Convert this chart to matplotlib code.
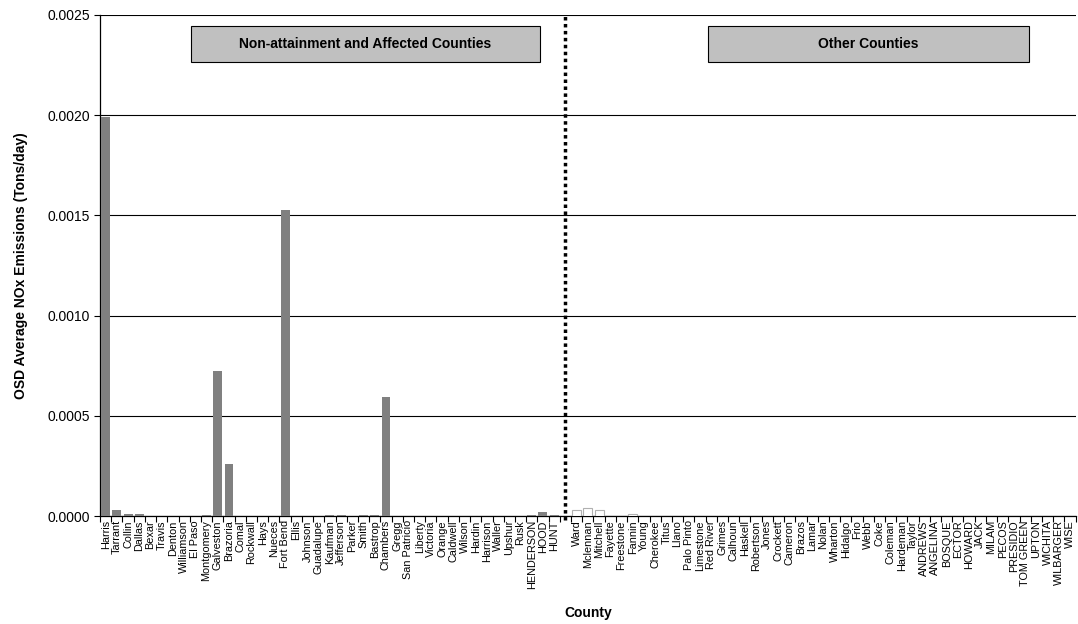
import matplotlib.pyplot as plt
from matplotlib.patches import Rectangle
from matplotlib.ticker import FormatStrFormatter

plt.rcParams['font.family'] = ['Liberation Sans', 'DejaVu Sans']

# non-attainment and affected counties
left_counties = ["Harris", "Tarrant", "Collin", "Dallas", "Bexar", "Travis", "Denton",
                 "Williamson", "El Paso", "Montgomery", "Galveston", "Brazoria", "Comal",
                 "Rockwall", "Hays", "Nueces", "Fort Bend", "Ellis", "Johnson", "Guadalupe",
                 "Kaufman", "Jefferson", "Parker", "Smith", "Bastrop", "Chambers", "Gregg",
                 "San Patricio", "Liberty", "Victoria", "Orange", "Caldwell", "Wilson",
                 "Hardin", "Harrison", "Waller", "Upshur", "Rusk", "HENDERSON", "HOOD", "HUNT"]
left_values = [0.00199, 0.000028, 0.000012, 0.000010, 0.000002, 0.000001, 0.000002,
               0.000001, 0.0, 0.000003, 0.000724, 0.000258, 0.000001,
               0.0, 0.000001, 0.000002, 0.001525, 0.000001, 0.000002, 0.000001,
               0.000006, 0.000004, 0.000001, 0.000003, 0.000005, 0.000594, 0.000001,
               0.000001, 0.000001, 0.000001, 0.000002, 0.000001, 0.0,
               0.000001, 0.000002, 0.000001, 0.0, 0.000002, 0.000003, 0.000020, 0.000006]

# other counties
right_counties = ["Ward", "Mclennan", "Mitchell", "Fayette", "Freestone", "Fannin", "Young",
                  "Cherokee", "Titus", "Llano", "Palo Pinto", "Limestone", "Red River",
                  "Grimes", "Calhoun", "Haskell", "Robertson", "Jones", "Crockett", "Cameron",
                  "Brazos", "Lamar", "Nolan", "Wharton", "Hidalgo", "Frio", "Webb", "Coke",
                  "Coleman", "Hardeman", "Taylor", "ANDREWS", "ANGELINA", "BOSQUE", "ECTOR",
                  "HOWARD", "JACK", "MILAM", "PECOS", "PRESIDIO", "TOM GREEN", "UPTON",
                  "WICHITA", "WILBARGER", "WISE"]
right_values = [0.000030, 0.000040, 0.000028, 0.000002, 0.000002, 0.000010, 0.000001,
                0.000002, 0.000001, 0.000001, 0.000002, 0.000001, 0.000001,
                0.000001, 0.000001, 0.000001, 0.000001, 0.000001, 0.000001, 0.000001,
                0.000001, 0.000001, 0.000001, 0.000001, 0.000001, 0.000001, 0.000001, 0.000001,
                0.000001, 0.000001, 0.000001, 0.000001, 0.000001, 0.000001, 0.000001,
                0.000001, 0.000001, 0.000001, 0.000001, 0.000001, 0.000001, 0.000001,
                0.000001, 0.000001, 0.000001]

labels = left_counties + [""] + right_counties
n_left = len(left_counties)
x_left = list(range(n_left))
gap_pos = n_left
x_right = [n_left + 1 + i for i in range(len(right_counties))]

fig = plt.figure(figsize=(10.78, 6.24), dpi=100)
ax = fig.add_axes([0.0928, 0.173, 0.905, 0.803])

ax.bar(x_left, left_values, width=0.8, color="#808080", edgecolor="none", zorder=3)
ax.bar(x_right, right_values, width=0.8, color="white", edgecolor="#b0b0b0",
       linewidth=0.8, zorder=3)

ax.set_xlim(-0.5, len(labels) - 0.5)
ax.set_ylim(0, 0.0025)
ax.set_yticks([0, 0.0005, 0.0010, 0.0015, 0.0020, 0.0025])
ax.yaxis.set_major_formatter(FormatStrFormatter("%.4f"))
ax.grid(axis="y", color="black", linewidth=0.8, zorder=0)

# category labels at centres, tick marks at boundaries
ax.set_xticks(range(len(labels)))
ax.set_xticklabels(labels, rotation=90, fontsize=7.8)
ax.tick_params(axis="x", length=0, pad=3)
ax.set_xticks([i - 0.5 for i in range(len(labels) + 1)], minor=True)
ax.tick_params(axis="x", which="minor", length=4, width=0.8, direction="out")
ax.tick_params(axis="y", labelsize=10, length=4, width=0.8, pad=3)

for side in ["top", "right"]:
    ax.spines[side].set_visible(False)
ax.spines["left"].set_linewidth(0.9)
ax.spines["bottom"].set_linewidth(0.9)

# divider between the two groups
ax.plot([gap_pos, gap_pos], [-0.00002, 0.0025], color="black", linestyle=(0, (1, 1)),
        linewidth=2.5, clip_on=False, zorder=5)

# group title boxes
for x0, x1, txt in [(0.0933, 0.451, "Non-attainment and Affected Counties"),
                    (0.623, 0.952, "Other Counties")]:
    ax.add_patch(Rectangle((x0, 0.906), x1 - x0, 0.072, transform=ax.transAxes,
                           facecolor="#c0c0c0", edgecolor="black", linewidth=0.8, zorder=6))
    ax.text((x0 + x1) / 2, 0.942, txt, transform=ax.transAxes, ha="center", va="center",
            fontsize=10, fontweight="bold", zorder=7)

ax.set_ylabel("OSD Average NOx Emissions (Tons/day)", fontsize=10, fontweight="bold", labelpad=14)
ax.set_xlabel("County", fontsize=10, fontweight="bold", labelpad=12)

plt.savefig("out.png", dpi=100)
